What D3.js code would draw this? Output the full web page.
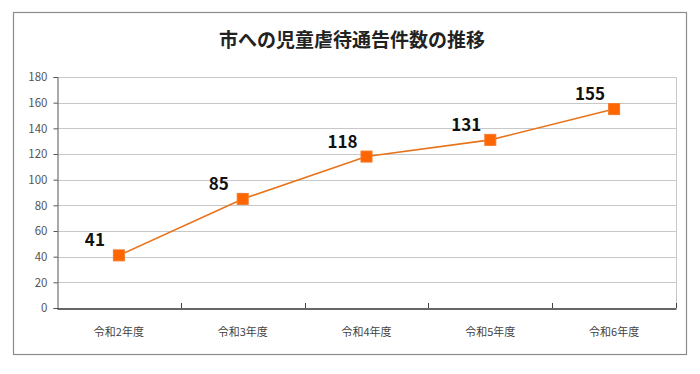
<!DOCTYPE html>
<html><head><meta charset="utf-8">
<script src="https://cdn.jsdelivr.net/npm/d3@7"></script>
<style>body{margin:0;background:#fff;}svg{display:block;}</style>
</head><body>
<svg id="c" width="700" height="374"></svg>
<script>
const title = "市への児童虐待通告件数の推移";
const categories = ["令和2年度","令和3年度","令和4年度","令和5年度","令和6年度"];
const values = [41, 85, 118, 131, 155];
const yTicks = [0,20,40,60,80,100,120,140,160,180];

const svg = d3.select("#c");
const font = "'Noto Sans CJK JP','Noto Sans',sans-serif";
const m = {left:57, right:676, top:77, bottom:308};

svg.append("rect").attr("x",13.5).attr("y",12.5).attr("width",673).attr("height",342)
  .attr("fill","#fff").attr("stroke","#8c8c8c").attr("stroke-width",1.2);

svg.append("text").attr("x",352).attr("y",47).attr("text-anchor","middle")
  .attr("font-family",font).attr("font-weight","bold").attr("font-size",19)
  .attr("fill","#222").text(title);

const x = d3.scaleBand().domain(categories).range([m.left,m.right]).padding(0);
const y = d3.scaleLinear().domain([0,180]).range([m.bottom,m.top]);

// gridlines
svg.append("g").selectAll("line").data(yTicks.filter(d=>d>0)).join("line")
  .attr("x1",m.left).attr("x2",m.right)
  .attr("y1",d=>Math.round(y(d))+0.5).attr("y2",d=>Math.round(y(d))+0.5)
  .attr("stroke","#c8c8c8").attr("stroke-width",1);
svg.append("line").attr("x1",m.right+0.5).attr("x2",m.right+0.5).attr("y1",m.top).attr("y2",m.bottom)
  .attr("stroke","#c8c8c8");

// y axis
const yAxis = d3.axisLeft(y).tickValues(yTicks).tickSize(4).tickPadding(6);
const gy = svg.append("g").attr("transform",`translate(${m.left+0.5},0)`).call(yAxis);
gy.select(".domain").attr("stroke","#555");
gy.selectAll(".tick line").attr("stroke","#555");
gy.selectAll("text").attr("font-family",font).attr("font-size",11.5).attr("fill","#555");

// x axis
const xAxis = d3.axisBottom(x).tickSize(0).tickPadding(20);
const gx = svg.append("g").attr("transform",`translate(0,${m.bottom+0.5})`).call(xAxis);
gx.select(".domain").attr("stroke","#333").attr("stroke-width",1.3);
gx.selectAll("text").attr("font-family",font).attr("font-size",11).attr("fill","#444");
const bounds = categories.slice(1).map(c=>x(c)).concat([m.right]);
svg.append("g").selectAll("line").data(bounds).join("line")
  .attr("x1",d=>Math.round(d)+0.5).attr("x2",d=>Math.round(d)+0.5)
  .attr("y1",m.bottom-5).attr("y2",m.bottom).attr("stroke","#444");

const cx = d => x(d) + x.bandwidth()/2;
const line = d3.line().x((d,i)=>cx(categories[i])).y(d=>y(d));
svg.append("path").datum(values).attr("d",line).attr("fill","none")
  .attr("stroke","#E8731A").attr("stroke-width",1.6);

svg.append("g").selectAll("rect").data(values).join("rect")
  .attr("x",(d,i)=>cx(categories[i])-5.5).attr("y",d=>y(d)-5.5)
  .attr("width",11).attr("height",11)
  .attr("fill","#FF6600").attr("stroke","#F47A2A").attr("stroke-width",1);

svg.append("g").selectAll("text").data(values).join("text")
  .attr("x",(d,i)=>cx(categories[i])-24).attr("y",d=>y(d)-9)
  .attr("text-anchor","middle").attr("font-family",font).attr("font-weight","bold")
  .attr("font-size",17).attr("fill","#111").text(d=>d);
</script>
</body></html>
